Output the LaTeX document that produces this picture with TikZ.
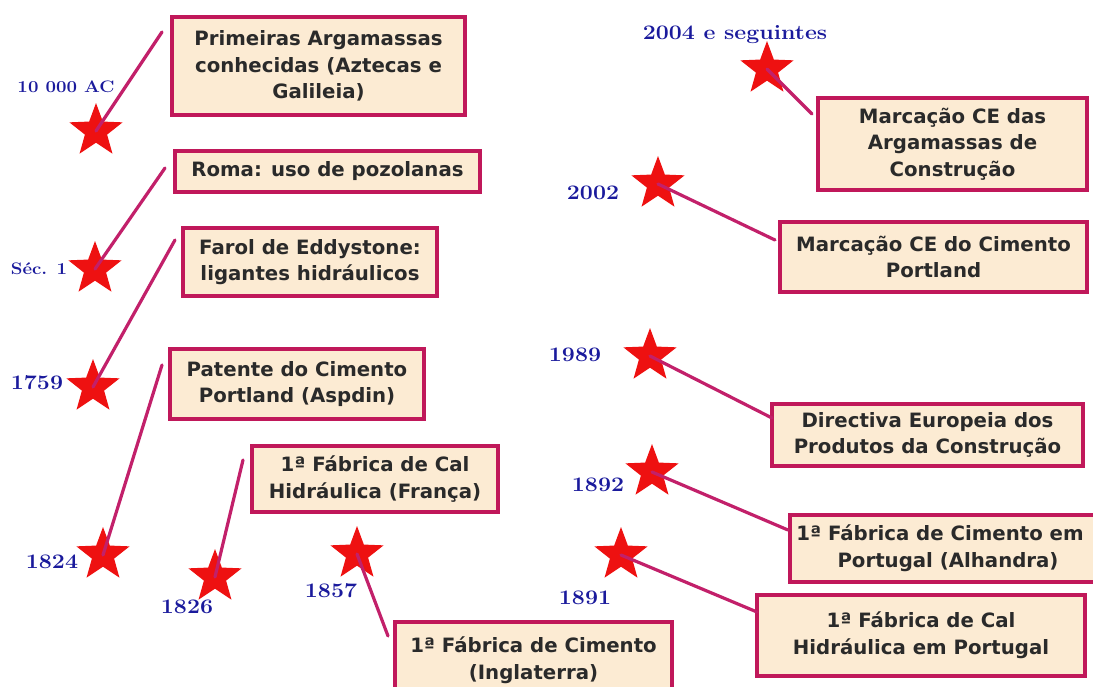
\documentclass[tikz,border=0pt]{standalone}
\usepackage{fontspec}
\newfontfamily\boxfont{DejaVu Sans}
\usetikzlibrary{shapes.geometric}
\definecolor{boxfill}{HTML}{FCEBD3}
\definecolor{boxline}{HTML}{C0185A}
\definecolor{conline}{HTML}{C2206A}
\definecolor{yearblue}{HTML}{1A1A9C}
\definecolor{starred}{HTML}{EE1111}
\definecolor{boxtext}{HTML}{2A2A2A}
\tikzset{
  evbox/.style 2 args={draw=boxline, line width=3pt, fill=boxfill, text=boxtext,
    font=\boxfont\bfseries\fontsize{14.8}{20}\selectfont, align=center,
    minimum width=#1*0.75pt, minimum height=#2*0.75pt, inner sep=0pt},
  evstar/.style={star, star points=5, star point ratio=2.4, fill=starred, draw=none,
    minimum size=56*0.75pt, inner sep=0pt},
  year/.style={text=yearblue, font=\bfseries\fontsize{15.5}{16}\selectfont, inner sep=0pt},
  yearsmall/.style={text=yearblue, font=\bfseries\fontsize{12.5}{13}\selectfont, inner sep=0pt},
  conn/.style={draw=conline, line width=2.4pt, line cap=round}
}
\newcommand{\wide}[1]{\scalebox{1.12}[1]{#1}}
\begin{document}
\begin{tikzpicture}[x=0.75pt,y=-0.75pt]
\useasboundingbox (0,0) rectangle (1093,686);
\clip (0,0) rectangle (1093,686);
% boxes
\node[evbox={293}{98}] (b1) at (318.5,66) {Primeiras Argamassas\\conhecidas (Aztecas e\\Galileia)};
\node[evbox={305}{41}] (b2) at (327.5,171.5) {Roma: uso de pozolanas};
\node[evbox={254}{68}] (b3) at (310,262) {Farol de Eddystone:\\ligantes hidráulicos};
\node[evbox={254}{70}] (b4) at (297,384) {Patente do Cimento\\Portland (Aspdin)};
\node[evbox={246}{66}] (b5) at (375,479) {1ª Fábrica de Cal\\Hidráulica (França)};
\node[evbox={277}{78}, text depth=0pt] (b6) at (533.5,661) {\raisebox{17pt}{\begin{tabular}{@{}c@{}}1ª Fábrica de Cimento\\(Inglaterra)\end{tabular}}};
\node[evbox={269}{92}] (b7) at (952.5,144) {Marcação CE das\\Argamassas de\\Construção};
\node[evbox={307}{70}] (b8) at (933.5,257) {Marcação CE do Cimento\\Portland};
\node[evbox={311}{62}] (b9) at (927.5,435) {Directiva Europeia dos\\Produtos da Construção};
\node[evbox={316}{67}] (b10) at (948,548.5) {\hspace*{-12pt}1ª Fábrica de Cimento em\\Portugal (Alhandra)};
\node[evbox={328}{81}] (b11) at (921,635.5) {1ª Fábrica de Cal\\Hidráulica em Portugal};
% stars
\node[evstar] (s1) at (96,131) {};
\node[evstar] (s2) at (95,269) {};
\node[evstar] (s3) at (93,387) {};
\node[evstar] (s4) at (103,555) {};
\node[evstar] (s5) at (215,577) {};
\node[evstar] (s6) at (357,554) {};
\node[evstar] (s7) at (621,555) {};
\node[evstar] (s8) at (652,472) {};
\node[evstar] (s9) at (650,356) {};
\node[evstar] (s10) at (658,184) {};
\node[evstar] (s11) at (767,69) {};
% year labels
\node[yearsmall] (y1) at (66,87) {\wide{10 000 AC}};
\node[yearsmall] (y2) at (39,269) {\wide{Séc. 1}};
\node[year] (y3) at (37,383) {\wide{1759}};
\node[year] (y4) at (52,562) {\wide{1824}};
\node[year] (y5) at (187,607) {\wide{1826}};
\node[year] (y6) at (331,591) {\wide{1857}};
\node[year] (y7) at (585,598) {\wide{1891}};
\node[year] (y8) at (598,485) {\wide{1892}};
\node[year] (y9) at (575,355) {\wide{1989}};
\node[year] (y10) at (593,193) {\wide{2002}};
\node[year] (y11) at (735,35) {\wide{2004 e seguintes}};
% connector free ends
\coordinate (c1) at (162,32);
\coordinate (c2) at (165,168);
\coordinate (c3) at (175,240);
\coordinate (c4) at (162,365);
\coordinate (c5) at (243,460);
\coordinate (c6) at (388,636);
\coordinate (c7) at (757,612);
\coordinate (c8) at (788,530);
\coordinate (c9) at (772,418);
\coordinate (c10) at (775,240);
\coordinate (c11) at (812,114);
% connectors
\draw[conn] (c1) -- (s1.center);
\draw[conn] (c2) -- (s2.center);
\draw[conn] (c3) -- (s3.center);
\draw[conn] (c4) -- (s4.center);
\draw[conn] (c5) -- (s5.center);
\draw[conn] (c6) -- (s6.center);
\draw[conn] (c7) -- (s7.center);
\draw[conn] (c8) -- (s8.center);
\draw[conn] (c9) -- (s9.center);
\draw[conn] (c10) -- (s10.center);
\draw[conn] (c11) -- (s11.center);
\end{tikzpicture}
\end{document}
